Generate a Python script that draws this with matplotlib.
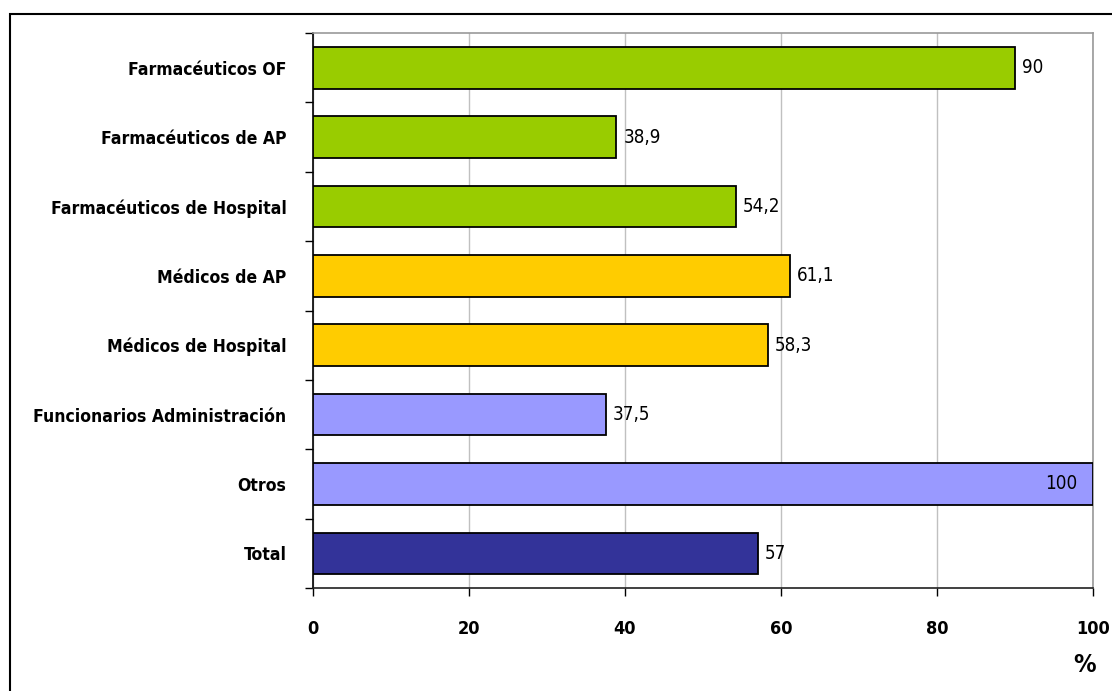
import matplotlib.pyplot as plt
from matplotlib.patches import Rectangle

categories = [
    "Farmacéuticos OF",
    "Farmacéuticos de AP",
    "Farmacéuticos de Hospital",
    "Médicos de AP",
    "Médicos de Hospital",
    "Funcionarios Administración",
    "Otros",
    "Total",
]
values = [90, 38.9, 54.2, 61.1, 58.3, 37.5, 100, 57]
value_labels = ["90", "38,9", "54,2", "61,1", "58,3", "37,5", "100", "57"]
colors = ["#99CC00", "#99CC00", "#99CC00", "#FFCC00", "#FFCC00",
          "#9999FF", "#9999FF", "#333399"]
xticks = [0, 20, 40, 60, 80, 100]

plt.rcParams["font.family"] = ["DejaVu Sans"]
plt.rcParams["font.stretch"] = "condensed"

fig = plt.figure(figsize=(11.12, 6.91), dpi=100)
ax = fig.add_axes([313 / 1112, 1 - 588 / 691, 780 / 1112, 555 / 691])

pos = list(range(len(categories)))
ax.barh(pos, values, height=0.6, color=colors, edgecolor="black", linewidth=1.3, zorder=3)

for p, v, lab in zip(pos, values, value_labels):
    if v >= 100:
        ax.annotate(lab, (v, p), xytext=(-11, 0), textcoords="offset points",
                    ha="right", va="center", fontsize=13.5, zorder=4)
    else:
        ax.annotate(lab, (v, p), xytext=(5, 0), textcoords="offset points",
                    ha="left", va="center", fontsize=13.5, zorder=4)

ax.set_xlim(0, 100)
ax.set_ylim(len(categories) - 0.5, -0.5)
ax.set_xticks(xticks)
ax.set_xticklabels([str(t) for t in xticks], fontsize=13, fontweight="bold")
ax.set_yticks(pos)
ax.set_yticklabels(categories, fontsize=12.6, fontweight="bold")
ax.set_yticks([p + 0.5 for p in range(-1, len(categories))], minor=True)
ax.tick_params(axis="y", which="major", length=0, pad=19)
ax.tick_params(axis="y", which="minor", length=6, width=1, direction="out")
ax.tick_params(axis="x", length=6, width=1, direction="out", pad=17)

ax.grid(axis="x", color="#C0C0C0", linewidth=1, zorder=0)
ax.spines["left"].set_color("black")
ax.spines["bottom"].set_color("#202020")
ax.spines["top"].set_color("#999999")
ax.spines["right"].set_color("#999999")
for s in ax.spines.values():
    s.set_linewidth(1.2)

fig.text(1085 / 1112, 1 - 665 / 691, "%", fontsize=18, fontweight="bold",
         ha="center", va="center")

# outer frame (cropped on right and bottom)
fig.patches.append(Rectangle((9.5 / 1112, -0.05), 1.2, 1 - 13.5 / 691 + 0.05,
                             transform=fig.transFigure, fill=False,
                             edgecolor="black", linewidth=1.5))

fig.savefig("out.png", dpi=100)
